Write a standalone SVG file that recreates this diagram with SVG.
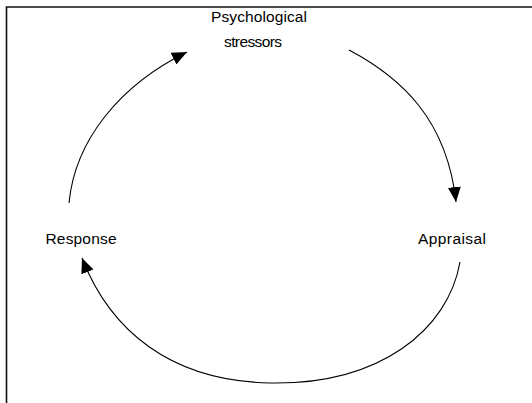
<svg xmlns="http://www.w3.org/2000/svg" width="532" height="403" viewBox="0 0 532 403">
<style>
.lbl{font-family:"Liberation Sans",Arial,sans-serif;font-size:15.5px;fill:#000;text-anchor:middle}
.conn{fill:none;stroke:#000;stroke-width:1.1}
.frame{fill:none;stroke:#111;stroke-width:1.6}
</style>
<defs>
<marker id="ah" markerUnits="userSpaceOnUse" markerWidth="15" markerHeight="13" viewBox="0 0 15 13" refX="15" refY="6.5" orient="auto">
<path d="M0,0 L15,6.5 L0,13 z" fill="#000"/>
</marker>
</defs>
<rect width="532" height="403" fill="#fff"/>
<path class="frame" d="M6.5,403 V7 H532"/>
<g id="n-stressors">
<text class="lbl" x="259" y="22" textLength="96" lengthAdjust="spacing">Psychological</text>
<text class="lbl" x="253" y="47" textLength="58" lengthAdjust="spacing">stressors</text>
</g>
<g id="n-appraisal">
<text class="lbl" x="452" y="244" textLength="68" lengthAdjust="spacing">Appraisal</text>
</g>
<g id="n-response">
<text class="lbl" x="81" y="244" textLength="71" lengthAdjust="spacing">Response</text>
</g>
<g id="connectors">
<path class="conn" d="M69,203 C75,140 120,85 187,52" marker-end="url(#ah)"/>
<path class="conn" d="M349,50 C402,78 447,120 456,202" marker-end="url(#ah)"/>
<path class="conn" d="M460,262 C448,330 380,385 270,383 C170,381 110,330 82,258" marker-end="url(#ah)"/>
</g>
</svg>
